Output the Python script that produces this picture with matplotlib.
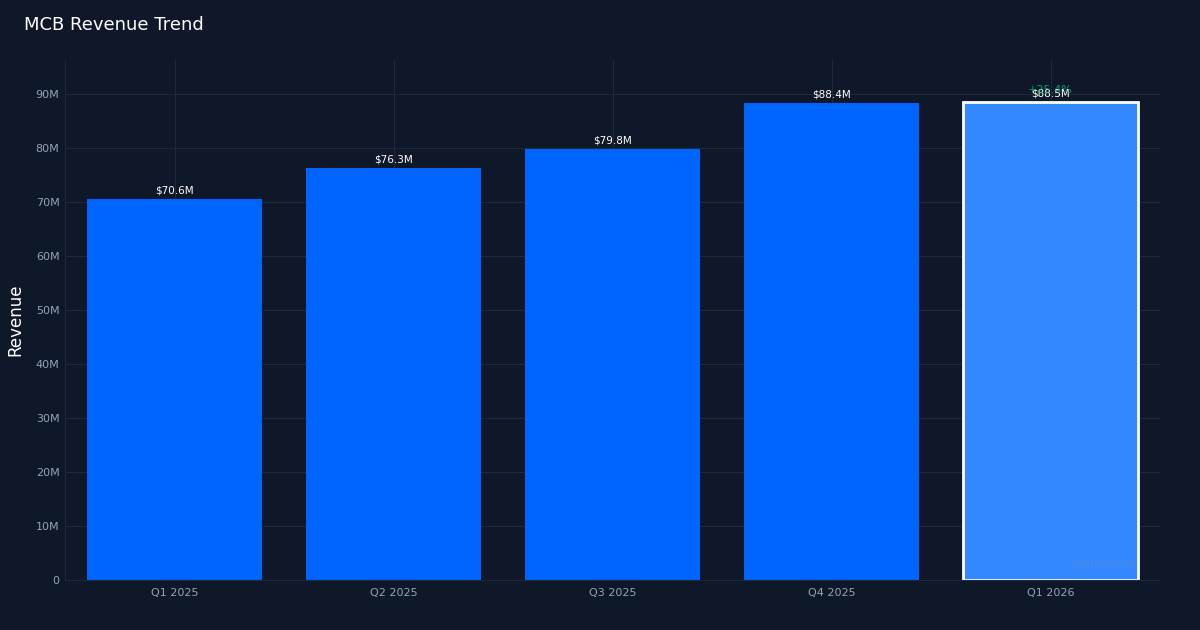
import matplotlib

matplotlib.use("Agg")
import matplotlib.pyplot as plt
from matplotlib.ticker import FuncFormatter

quarters = ["Q1 2025", "Q2 2025", "Q3 2025", "Q4 2025", "Q1 2026"]
revenue_m = [70.6, 76.3, 79.8, 88.4, 88.5]
growth_label = "+25.4%"

BG = "#0f1829"
GRID = "#1e293b"
TICK = "#94a3b8"
BAR = "#0064ff"
BAR_LAST = "#3388ff"

fig = plt.figure(figsize=(12, 6.3), dpi=100, facecolor=BG)
ax = fig.add_axes([0.0542, 0.0794, 0.9125, 0.8254], facecolor=BG)

x = list(range(len(quarters)))
colors = [BAR] * (len(quarters) - 1) + [BAR_LAST]
bars = ax.bar(x, revenue_m, width=0.8, color=colors, zorder=2)
bars[-1].set_edgecolor("white")
bars[-1].set_linewidth(2)

for xi, v in zip(x, revenue_m):
    ax.text(xi, v + 0.6, f"${v}M", ha="center", va="bottom", color="white",
            fontsize=7.5, zorder=3)
ax.text(x[-1], revenue_m[-1] + 1.3, growth_label, ha="center", va="bottom",
        color="#10b981", fontsize=8, alpha=0.8, zorder=3)

ax.set_xlim(-0.5, len(quarters) - 0.5)
ax.set_ylim(0, 96.3)
ax.set_yticks(range(0, 91, 10))
ax.yaxis.set_major_formatter(FuncFormatter(lambda v, _: "0" if v == 0 else f"{int(v)}M"))
ax.set_xticks(x)
ax.set_xticklabels(quarters)
ax.tick_params(colors=TICK, labelsize=8, length=0, pad=4)
ax.tick_params(axis="x", pad=6)
ax.grid(True, color=GRID, linewidth=0.8, zorder=0)
ax.set_axisbelow(True)
for side in ("top", "right"):
    ax.spines[side].set_visible(False)
for side in ("left", "bottom"):
    ax.spines[side].set_color(GRID)

ax.set_ylabel("Revenue", color="white", fontsize=12, labelpad=8)
fig.text(0.02, 0.961, "MCB Revenue Trend", color="white", fontsize=13, ha="left", va="center")
ax.text(0.978, 0.022, "AlphaStreet", transform=ax.transAxes, ha="right", va="bottom",
        color="#6b8cc0", alpha=0.45, fontsize=8, zorder=4)

fig.savefig("out.png", facecolor=BG)
